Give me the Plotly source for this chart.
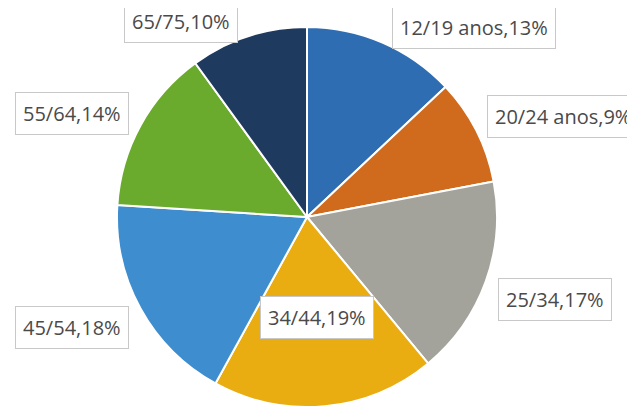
import plotly.graph_objects as go

categories = ["12/19 anos", "20/24 anos", "25/34", "34/44", "45/54", "55/64", "65/75"]
values = [13, 9, 17, 19, 18, 14, 10]
colors = ["#2F6DB3", "#D06A1C", "#A3A39C", "#E9AD12", "#3D8DCF", "#6AAA2C", "#1E3A5E"]

# label box centres in screen pixels (layout only)
label_px = [(474, 27), (563, 116), (555, 299), (317, 317), (72, 327), (72, 113), (181, 21)]

W, H = 635, 410
OFF = 8  # page body margin in the browser

def fx(px):
    return (px - OFF) / W

def fy(py):
    return 1 - (py - OFF) / H

fig = go.Figure(go.Pie(
    labels=categories,
    values=values,
    sort=False,
    direction="clockwise",
    rotation=0,
    textinfo="none",
    hoverinfo="label+percent",
    marker=dict(colors=colors, line=dict(color="white", width=2)),
    domain=dict(x=[fx(117), fx(497)], y=[fy(407), fy(27)]),
    showlegend=False,
))

annotations = []
for cat, val, (px, py) in zip(categories, values, label_px):
    annotations.append(dict(
        text=f"{cat},{val}%",
        x=fx(px), y=fy(py),
        xref="paper", yref="paper",
        xanchor="center", yanchor="middle",
        showarrow=False,
        font=dict(family="Open Sans", size=20, color="#4A4A4A"),
        bgcolor="white",
        bordercolor="#C8C8C8",
        borderwidth=1,
        borderpad=7,
    ))

fig.update_layout(
    width=W, height=H,
    margin=dict(l=0, r=0, t=0, b=0),
    paper_bgcolor="white",
    plot_bgcolor="white",
    annotations=annotations,
)

fig.write_html("out.html")
